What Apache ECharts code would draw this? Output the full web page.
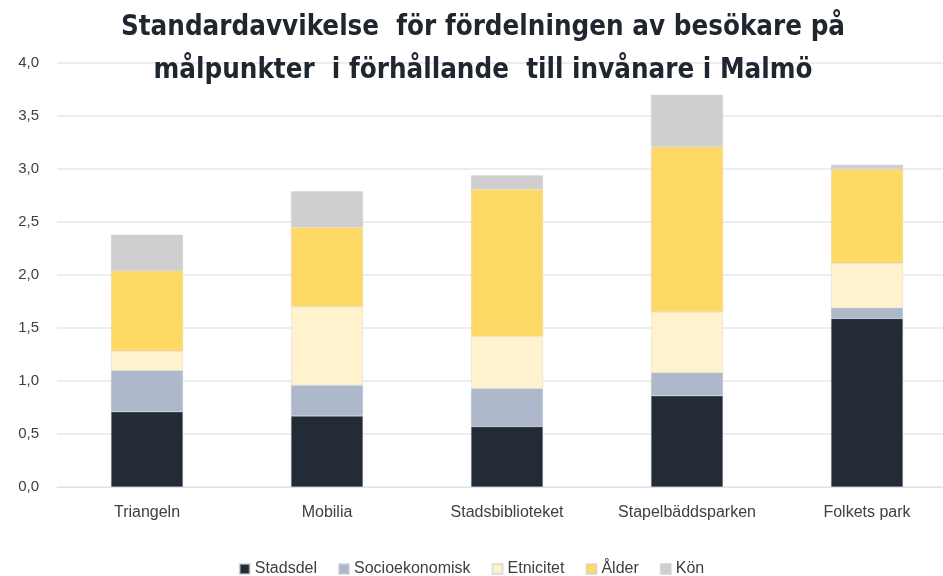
<!DOCTYPE html>
<html>
<head>
<meta charset="utf-8">
<script src="https://cdn.jsdelivr.net/npm/echarts@6/dist/echarts.min.js"></script>
<style>
  html, body { margin: 0; padding: 0; background: #fff; }
  #chart { width: 943px; height: 576px; }
</style>
</head>
<body>
<div id="chart"></div>
<script>
  // data
  var places = ['Triangeln', 'Mobilia', 'Stadsbiblioteket', 'Stapelbäddsparken', 'Folkets park']
  var stadsdel = [0.71, 0.67, 0.57, 0.86, 1.59]
  var socioekonomisk = [0.39, 0.29, 0.36, 0.22, 0.10]
  var etnicitet = [0.18, 0.74, 0.49, 0.57, 0.42]
  var alder = [0.76, 0.75, 1.39, 1.56, 0.89]
  var kon = [0.34, 0.34, 0.13, 0.49, 0.04]

  var titleFont = '"Liberation Sans Narrow", "DejaVu Sans Condensed", "Liberation Sans", sans-serif'
  var font = '"Liberation Sans", Arial, sans-serif'
  var chart = echarts.init(document.getElementById('chart'))

  function bar(name, color, data) {
    return {
      name: name,
      type: 'bar',
      stack: 'total',
      barWidth: '40%',
      itemStyle: { color: color, borderColor: 'rgba(200,205,215,0.6)', borderWidth: 0.5 },
      data: data
    }
  }

  chart.setOption({
    animation: false,
    title: {
      text: 'Standardavvikelse  för fördelningen av besökare på\nmålpunkter  i förhållande  till invånare i Malmö',
      left: 478,
      top: 1,
      textAlign: 'center',
      textStyle: {
        fontFamily: titleFont,
        fontSize: 27.5,
        fontWeight: 'bold',
        color: '#1f2630',
        lineHeight: 43
      }
    },
    legend: {
      bottom: -6,
      left: 'center',
      itemWidth: 10,
      itemHeight: 10,
      itemGap: 21,
      icon: 'rect',
      textStyle: { fontFamily: font, fontSize: 16, color: '#404040' },
      data: ['Stadsdel', 'Socioekonomisk', 'Etnicitet', 'Ålder', 'Kön']
    },
    grid: { left: 57, width: 900, top: 63, bottom: 89, outerBoundsMode: 'none' },
    xAxis: {
      type: 'category',
      data: places,
      axisLine: { lineStyle: { color: '#dfe3ea' } },
      axisTick: { show: false },
      axisLabel: { fontFamily: font, fontSize: 16, color: '#404040', margin: 18 }
    },
    yAxis: {
      type: 'value',
      min: 0,
      max: 4,
      interval: 0.5,
      axisLabel: {
        fontFamily: font,
        fontSize: 15,
        color: '#404040',
        margin: 18,
        formatter: function (v) { return v.toFixed(1).replace('.', ',') }
      },
      splitLine: { lineStyle: { color: '#e3e7ee', width: 1.5 } }
    },
    series: [
      bar('Stadsdel', '#232b36', stadsdel),
      bar('Socioekonomisk', '#adb8ca', socioekonomisk),
      bar('Etnicitet', '#fff2cc', etnicitet),
      bar('Ålder', '#ffd966', alder),
      bar('Kön', '#d0cece', kon)
    ]
  })
</script>
</body>
</html>
